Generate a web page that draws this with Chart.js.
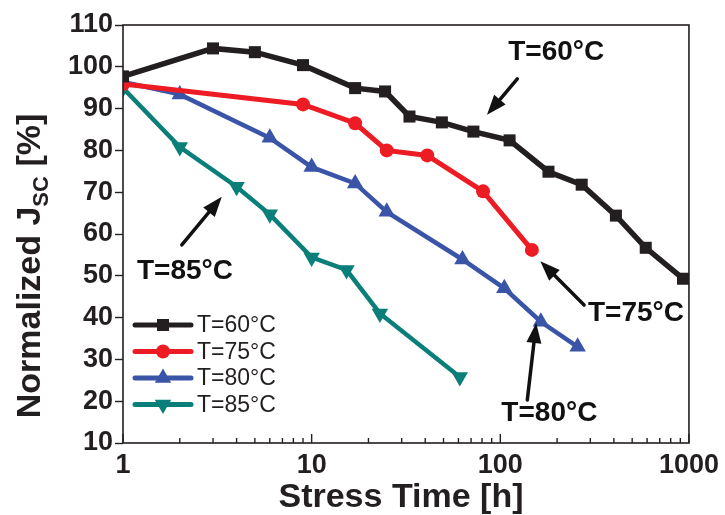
<!DOCTYPE html>
<html>
<head>
<meta charset="utf-8">
<script src="https://cdn.jsdelivr.net/npm/chart.js@4.4.1/dist/chart.umd.min.js"></script>
<style>
  html, body { margin: 0; padding: 0; background: #fff; }
  #wrap { width: 725px; height: 515px; }
</style>
</head>
<body>
<div id="wrap"><canvas id="jscChart" width="725" height="515"></canvas></div>
<script>
// ---------------------- Data ----------------------
const hours60 = [1, 3, 5, 9, 17, 24.5, 33, 49, 72, 112, 180, 270, 410, 590, 930];
const jsc60   = [97.7, 104.4, 103.5, 100.4, 94.9, 94.1, 88.1, 86.7, 84.5, 82.4, 74.9, 71.8, 64.4, 56.7, 49.3];

const hours75 = [1, 9, 17, 25, 41, 81, 147];
const jsc75   = [95.9, 91.0, 86.5, 80.0, 78.8, 70.2, 56.2];

const hours80 = [1, 2, 6, 10, 17, 25, 63, 105, 164, 257];
const jsc80   = [96.4, 93.4, 83.0, 76.0, 72.1, 65.3, 53.9, 47.0, 39.0, 33.0];

const hours85 = [1, 2, 4, 6, 10, 15.3, 23, 61];
const jsc85   = [94.9, 80.8, 71.3, 64.7, 54.4, 51.4, 41.0, 25.8];

const seriesLabels = ['T=60°C', 'T=75°C', 'T=80°C', 'T=85°C'];
const xTickLabels = [1, 10, 100, 1000];
const yTickLabels = [10, 20, 30, 40, 50, 60, 70, 80, 90, 100, 110];

// callouts: label, text centre, arrow tail, arrow tip (data coords)
const callouts = [
  { text: 'T=60°C', at: [198, 103.5], from: [123, 97.1], to: [85, 88.5] },
  { text: 'T=85°C', at: [2.13, 51.1], from: [2.05, 57.4], to: [3.34, 68.9] },
  { text: 'T=75°C', at: [524, 41.1], from: [278, 43.0], to: [163, 53.5] },
  { text: 'T=80°C', at: [182, 17.2], from: [139, 20.3], to: [155, 38.7] },
];

const COLORS = ['#231f20', '#ed1c24', '#3a55a8', '#0a7e78'];
const FONT = "'Liberation Sans', Arial, Helvetica, sans-serif";

const pts = (xs, ys) => xs.map((x, i) => ({ x, y: ys[i] }));

function series(i, xs, ys, style, radius, rotation, width) {
  return {
    label: seriesLabels[i],
    data: pts(xs, ys),
    borderColor: COLORS[i],
    backgroundColor: COLORS[i],
    borderWidth: width || 4.5,
    pointStyle: style,
    pointRadius: radius,
    pointHoverRadius: radius,
    pointRotation: rotation || 0,
    pointBorderWidth: 0,
    tension: 0,
  };
}

// ---------------------- Marker helper ----------------------
function marker(ctx, style, x, y, r, rotation) {
  if (Chart.helpers && Chart.helpers.drawPoint) {
    Chart.helpers.drawPoint(ctx, { pointStyle: style, radius: r, rotation: rotation || 0, borderWidth: 0 }, x, y);
    return;
  }
  ctx.beginPath();
  ctx.arc(x, y, r, 0, Math.PI * 2);
  ctx.fill();
}

// ---------------------- Plugins ----------------------
const frameAndTicks = {
  id: 'frameAndTicks',
  afterDatasetsDraw(chart) {
    const { ctx, chartArea: a, scales } = chart;
    ctx.save();
    ctx.strokeStyle = '#231f20';
    ctx.lineWidth = 1.6;
    ctx.strokeRect(a.left, a.top, a.right - a.left, a.bottom - a.top);

    // inward ticks on the log time axis
    ctx.lineWidth = 1.4;
    for (let d = 1; d <= 1000; d *= 10) {
      for (let m = 1; m <= 9; m++) {
        const v = d * m;
        if (v > 1000) break;
        const px = scales.x.getPixelForValue(v);
        const len = m === 1 ? 9 : 5;
        ctx.beginPath();
        ctx.moveTo(px, a.bottom);
        ctx.lineTo(px, a.bottom - len);
        ctx.stroke();
      }
    }
    ctx.restore();
  },
};

const axisTitles = {
  id: 'axisTitles',
  afterDraw(chart) {
    const { ctx, chartArea: a } = chart;
    ctx.save();
    ctx.fillStyle = '#231f20';
    ctx.textBaseline = 'alphabetic';

    // x title
    ctx.font = `bold 34px ${FONT}`;
    ctx.textAlign = 'center';
    ctx.fillText('Stress Time [h]', (a.left + a.right) / 2 - 5, 507);

    // y title with subscript
    const big = `bold 34px ${FONT}`;
    const small = `bold 22px ${FONT}`;
    const parts = [
      { t: 'Normalized J', f: big, dy: 0 },
      { t: 'SC', f: small, dy: 8 },
      { t: ' [%]', f: big, dy: 0 },
    ];
    let total = 0;
    parts.forEach(p => { ctx.font = p.f; p.w = ctx.measureText(p.t).width; total += p.w; });
    ctx.translate(40, 266);
    ctx.rotate(-Math.PI / 2);
    ctx.textAlign = 'left';
    let x = -total / 2;
    parts.forEach(p => { ctx.font = p.f; ctx.fillText(p.t, x, p.dy); x += p.w; });
    ctx.restore();
  },
};

function drawArrow(ctx, x0, y0, x1, y1) {
  const ang = Math.atan2(y1 - y0, x1 - x0);
  const headLen = 20, headHalf = 7.5;
  const bx = x1 - Math.cos(ang) * headLen;
  const by = y1 - Math.sin(ang) * headLen;
  ctx.beginPath();
  ctx.moveTo(x0, y0);
  ctx.lineTo(bx, by);
  ctx.stroke();
  ctx.beginPath();
  ctx.moveTo(x1, y1);
  ctx.lineTo(bx - Math.sin(ang) * headHalf, by + Math.cos(ang) * headHalf);
  ctx.lineTo(bx + Math.sin(ang) * headHalf, by - Math.cos(ang) * headHalf);
  ctx.closePath();
  ctx.fill();
}

const calloutPlugin = {
  id: 'callouts',
  afterDraw(chart) {
    const { ctx, scales: { x, y } } = chart;
    ctx.save();
    ctx.fillStyle = '#111';
    ctx.strokeStyle = '#111';
    ctx.lineWidth = 3.5;
    ctx.lineCap = 'round';
    ctx.font = `bold 28px ${FONT}`;
    ctx.textAlign = 'center';
    ctx.textBaseline = 'middle';
    callouts.forEach(c => {
      ctx.fillText(c.text, x.getPixelForValue(c.at[0]), y.getPixelForValue(c.at[1]));
      drawArrow(ctx,
        x.getPixelForValue(c.from[0]), y.getPixelForValue(c.from[1]),
        x.getPixelForValue(c.to[0]), y.getPixelForValue(c.to[1]));
    });
    ctx.restore();
  },
};

const insetLegend = {
  id: 'insetLegend',
  afterDraw(chart) {
    const { ctx, chartArea: a } = chart;
    ctx.save();
    chart.data.datasets.forEach((ds, i) => {
      const yy = a.bottom - 118 + i * 26.5;
      const x0 = a.left + 12, x1 = a.left + 68;
      ctx.strokeStyle = ds.borderColor;
      ctx.fillStyle = ds.backgroundColor;
      ctx.lineWidth = 5;
      ctx.lineCap = 'round';
      ctx.beginPath();
      ctx.moveTo(x0, yy);
      ctx.lineTo(x1, yy);
      ctx.stroke();
      marker(ctx, ds.pointStyle, (x0 + x1) / 2, yy, ds.pointRadius, ds.pointRotation);
      ctx.fillStyle = '#231f20';
      ctx.font = `23px ${FONT}`;
      ctx.textAlign = 'left';
      ctx.textBaseline = 'middle';
      ctx.fillText(ds.label, x1 + 6, yy + 1);
    });
    ctx.restore();
  },
};

// ---------------------- Chart ----------------------
new Chart(document.getElementById('jscChart'), {
  type: 'line',
  data: {
    datasets: [
      series(0, hours60, jsc60, 'rect', 8.5, 0, 5.5),
      series(1, hours75, jsc75, 'circle', 7, 0, 5),
      series(2, hours80, jsc80, 'triangle', 9.5),
      series(3, hours85, jsc85, 'triangle', 9.5, 180),
    ],
  },
  options: {
    responsive: false,
    animation: false,
    layout: { padding: { top: 25, right: 36, left: 0, bottom: 0 } },
    plugins: {
      legend: { display: false },
      tooltip: { enabled: false },
    },
    scales: {
      x: {
        type: 'logarithmic',
        min: 1,
        max: 1000,
        border: { display: false },
        grid: { display: false, drawTicks: false },
        afterFit: (s) => { s.height = 72; },
        afterBuildTicks: (s) => { s.ticks = xTickLabels.map(v => ({ value: v })); },
        ticks: {
          autoSkip: false,
          maxRotation: 0,
          padding: 6,
          color: '#231f20',
          font: { family: FONT, size: 27, weight: 'bold' },
          callback: (v) => String(v),
        },
      },
      y: {
        min: 10,
        max: 110,
        border: { display: false },
        afterFit: (s) => { s.width = 123; },
        afterBuildTicks: (s) => { s.ticks = yTickLabels.map(v => ({ value: v })); },
        grid: { drawOnChartArea: false, tickLength: 8, tickColor: '#231f20', tickWidth: 1.4 },
        ticks: {
          padding: 2,
          color: '#231f20',
          font: { family: FONT, size: 27, weight: 'bold' },
        },
      },
    },
  },
  plugins: [frameAndTicks, insetLegend, calloutPlugin, axisTitles],
});
</script>
</body>
</html>
